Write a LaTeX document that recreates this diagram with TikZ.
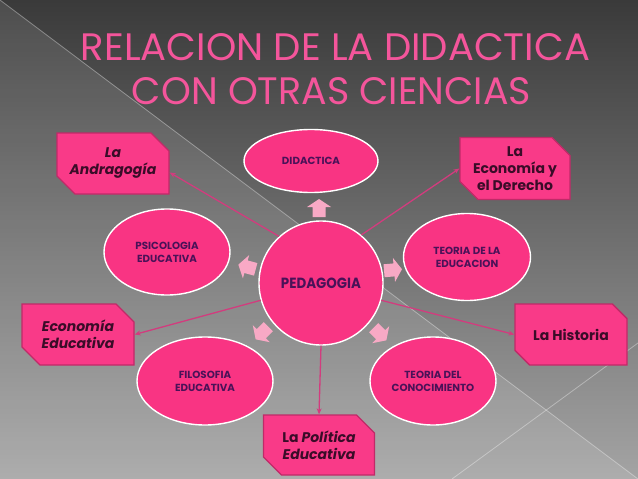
\documentclass[tikz,border=0pt]{standalone}
\usepackage{fontspec}
\setmainfont{Poppins}
\usepackage{graphicx}
\usetikzlibrary{shapes.geometric,shapes.misc,arrows.meta}
\definecolor{bgtop}{HTML}{3A3A3A}
\definecolor{bgbot}{HTML}{A4A4A4}
\definecolor{hotpink}{HTML}{F93483}
\definecolor{boxpink}{HTML}{F93A88}
\definecolor{boxedge}{HTML}{C02A68}
\definecolor{connpink}{HTML}{D23C7E}
\definecolor{lightpink}{HTML}{F8A9C5}
\definecolor{ellink}{HTML}{4A1258}
\definecolor{boxink}{HTML}{3A0C28}
\definecolor{titlepink}{HTML}{F4559B}
\begin{document}
\begin{tikzpicture}[x=1pt,y=-1pt,
  ell/.style={ellipse, draw=white, line width=1.4pt, fill=hotpink, text=ellink, inner sep=0pt, align=center, font=\bfseries\fontsize{10.3}{13}\selectfont},
  sbox/.style={chamfered rectangle, chamfered rectangle corners={north east,south west}, chamfered rectangle xsep=9pt, chamfered rectangle ysep=9pt, draw=boxedge, line width=1.3pt, fill=boxpink, text=boxink, inner sep=0pt, align=center, font=\bfseries\fontsize{14}{17}\selectfont},
  itbox/.style={sbox, font=\bfseries\itshape\fontsize{14}{17}\selectfont},
  conn/.style={draw=connpink, line width=1.3pt, -{Stealth[length=6pt,width=5pt]}},
  titletext/.style={text=titlepink, inner sep=0pt, anchor=base},
  blockarrow/.style={fill=lightpink},
  pics/barrow/.style={code={\fill[blockarrow] (-9,-6.5) -- (1,-6.5) -- (1,-12) -- (9,0) -- (1,12) -- (1,6.5) -- (-9,6.5) -- cycle;}}
]
\path[use as bounding box] (0,0) rectangle (638,479);
% background
\shade[top color=bgtop, bottom color=bgbot] (0,0) rectangle (638,479);
\fill[white, opacity=0.1] (0,0) -- (638,479) -- (0,479) -- cycle;
\draw[white, opacity=0.35, line width=0.8pt] (0,0) -- (638,479);
\draw[white, opacity=0.35, line width=0.8pt] (452,479) -- (638,343);
% title
\node[titletext] (t1) at (335.5,60) {\resizebox{509pt}{27pt}{RELACION DE LA DIDACTICA}};
\node[titletext] (t2) at (331.5,104) {\resizebox{399pt}{27pt}{CON OTRAS CIENCIAS}};
% centre and ellipses
\node[circle, draw=white, line width=1.4pt, fill=hotpink, text=ellink, minimum size=124pt, inner sep=0pt, font=\bfseries] (ped) at (321,283) {\resizebox{80pt}{10.5pt}{PEDAGOGIA}};
\node[ell, minimum width=134pt, minimum height=63pt] (did) at (311,161) {DIDACTICA};
\node[ell, minimum width=126pt, minimum height=86pt] (psi) at (167,252) {PSICOLOGIA\\EDUCATIVA};
\node[ell, minimum width=127pt, minimum height=87pt] (teo) at (467,257) {TEORIA DE LA\\EDUCACION};
\node[ell, minimum width=136pt, minimum height=88pt] (fil) at (205,381) {FILOSOFIA\\EDUCATIVA};
\node[ell, minimum width=126pt, minimum height=88pt] (con) at (433,381) {TEORIA DEL\\CONOCIMIENTO};
% boxes
\node[itbox, minimum width=112pt, minimum height=61pt] (andr) at (113,163.5) {La\\Andragogía};
\node[sbox, minimum width=110pt, minimum height=61pt] (eco) at (515,168.5) {La\\Economía y\\el Derecho};
\node[itbox, minimum width=112pt, minimum height=61pt] (ecoed) at (78,334.5) {Economía\\Educativa};
\node[sbox, minimum width=112pt, minimum height=61pt] (hist) at (571,334.5) {La Historia};
\node[sbox, minimum width=111pt, minimum height=60pt] (pol) at (319,445) {La \textit{Política}\\\textit{Educativa}};
% connectors
\draw[conn] (ped.132) -- (andr.-9);
\draw[conn] (ped.50) -- (eco.west);
\draw[conn] (ped.196) -- (ecoed.east);
\draw[conn] (ped.344) -- (hist.west);
\draw[conn] (ped.south) -- (pol.north);
% block arrows
\pic[transform shape, rotate=90] at (319,208) {barrow};
\pic[transform shape, rotate=165] at (247,267) {barrow};
\pic[transform shape, rotate=5] at (393,270) {barrow};
\pic[transform shape, rotate=225] at (262,333) {barrow};
\pic[transform shape, rotate=-45] at (380,334) {barrow};
\end{tikzpicture}
\end{document}
